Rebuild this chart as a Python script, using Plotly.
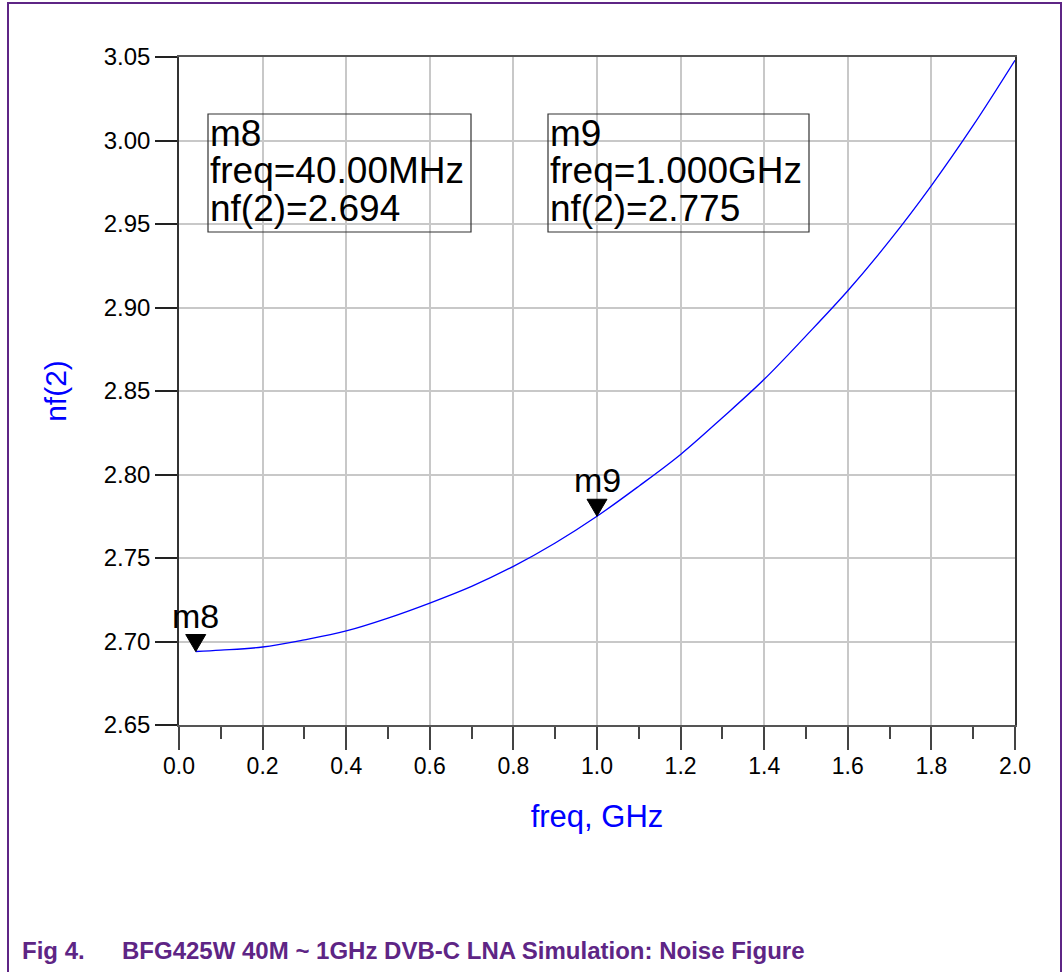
import plotly.graph_objects as go

# ---- data ----
freq_ghz = [0.04, 0.1, 0.2, 0.3, 0.4, 0.5, 0.6, 0.7, 0.8, 0.9, 1.0, 1.1, 1.2, 1.3, 1.4, 1.5, 1.6, 1.7, 1.8, 1.9, 2.0]
nf_db = [2.694, 2.6948, 2.6967, 2.701, 2.7063, 2.714, 2.723, 2.733, 2.745, 2.759, 2.775, 2.793, 2.812, 2.834, 2.857, 2.883, 2.910, 2.940, 2.973, 3.009, 3.048]

marker_names = ["m8", "m9"]
marker_freq = [0.04, 1.0]
marker_nf = [2.694, 2.775]
marker_box_lines = [["m8", "freq=40.00MHz", "nf(2)=2.694"],
                    ["m9", "freq=1.000GHz", "nf(2)=2.775"]]

x_ticks = [0.0, 0.2, 0.4, 0.6, 0.8, 1.0, 1.2, 1.4, 1.6, 1.8, 2.0]
y_ticks = [2.65, 2.70, 2.75, 2.80, 2.85, 2.90, 2.95, 3.00, 3.05]

caption_num = "Fig 4."
caption_text = "BFG425W 40M ~ 1GHz DVB-C LNA Simulation: Noise Figure"

# ---- layout geometry (pixels) ----
W, H = 1063, 972
L, R, T, B = 179, 1015, 57, 725
PW, PH = R - L, B - T


def px(xp):
    return (xp - L) / PW


def py(yp):
    return (B - yp) / PH


FONT = "Arial, Liberation Sans, sans-serif"
PURPLE = "#5E2585"

fig = go.Figure()
fig.add_trace(go.Scatter(x=freq_ghz, y=nf_db, mode="lines",
                         line=dict(color="#0000FF", width=1.3, shape="spline"),
                         hoverinfo="skip", showlegend=False))

shapes = []
annotations = []

# marker triangles + labels
for name, fx, fy in zip(marker_names, marker_freq, marker_nf):
    shapes.append(dict(type="path", xref="x", yref="y", xsizemode="pixel", ysizemode="pixel",
                       xanchor=fx, yanchor=fy, path="M -10,17 L 10,17 L 0,0 Z",
                       fillcolor="black", line=dict(color="black", width=1), layer="above"))
    annotations.append(dict(x=fx, y=fy, xref="x", yref="y", text=name, showarrow=False,
                            xanchor="center", yanchor="bottom", yshift=15,
                            font=dict(family=FONT, size=34, color="black")))

# marker readout boxes
box_left = [208, 548]
box_right = [471, 809]
box_top, box_bot = 114, 232
row_y = [133, 171, 208]
for lines, bl, br in zip(marker_box_lines, box_left, box_right):
    shapes.append(dict(type="rect", xref="paper", yref="paper",
                       x0=px(bl), x1=px(br), y0=py(box_bot), y1=py(box_top),
                       line=dict(color="#333333", width=1.2), fillcolor="rgba(0,0,0,0)",
                       layer="above"))
    for txt, ry in zip(lines, row_y):
        annotations.append(dict(x=px(bl), y=py(ry), xref="paper", yref="paper", text=txt,
                                showarrow=False, xanchor="left", yanchor="middle",
                                font=dict(family=FONT, size=37, color="black")))

# outer purple frame
shapes.append(dict(type="rect", xref="paper", yref="paper",
                   x0=px(8), x1=px(1061), y0=py(1000), y1=py(3),
                   line=dict(color=PURPLE, width=2), fillcolor="rgba(0,0,0,0)", layer="below"))

# caption
annotations.append(dict(x=px(20), y=py(950), xref="paper", yref="paper", text="<b>%s</b>" % caption_num,
                        showarrow=False, xanchor="left", yanchor="middle",
                        font=dict(family=FONT, size=24, color=PURPLE)))
annotations.append(dict(x=px(120), y=py(950), xref="paper", yref="paper", text="<b>%s</b>" % caption_text,
                        showarrow=False, xanchor="left", yanchor="middle",
                        font=dict(family=FONT, size=24, color=PURPLE)))

fig.update_layout(
    width=W, height=H,
    margin=dict(l=L, r=W - R, t=T, b=H - B, pad=0),
    paper_bgcolor="white", plot_bgcolor="white",
    shapes=shapes, annotations=annotations,
    showlegend=False,
)

fig.update_xaxes(
    range=[0, 2.0], tickvals=x_ticks, ticktext=["%.1f" % v for v in x_ticks],
    showgrid=True, gridcolor="#C8C8C8", gridwidth=1.5,
    showline=True, linecolor="#555555", linewidth=2, mirror=True,
    ticks="outside", ticklen=23, tickwidth=1.5, tickcolor="#444444",
    minor=dict(dtick=0.1, tick0=0, ticks="outside", ticklen=12, tickwidth=1.5,
               tickcolor="#444444", showgrid=False),
    tickfont=dict(family=FONT, size=23, color="black"),
    ticklabelstandoff=-4,
    title=dict(text="freq, GHz", font=dict(family=FONT, size=31, color="#0000FF"), standoff=28),
    zeroline=False,
)
fig.update_yaxes(
    range=[2.65, 3.05], tickvals=y_ticks, ticktext=["%.2f" % v for v in y_ticks],
    showgrid=True, gridcolor="#C8C8C8", gridwidth=1.5,
    showline=True, linecolor="#333333", linewidth=1.5, mirror=True,
    ticks="outside", ticklen=22, tickwidth=1.5, tickcolor="#222222",
    tickfont=dict(family=FONT, size=24, color="black"),
    title=dict(text="nf(2)", font=dict(family=FONT, size=30, color="#0000FF"), standoff=28),
    zeroline=False,
)

fig.write_html("out.html", config={"displayModeBar": False},
               post_script="document.body.style.margin='0';")
